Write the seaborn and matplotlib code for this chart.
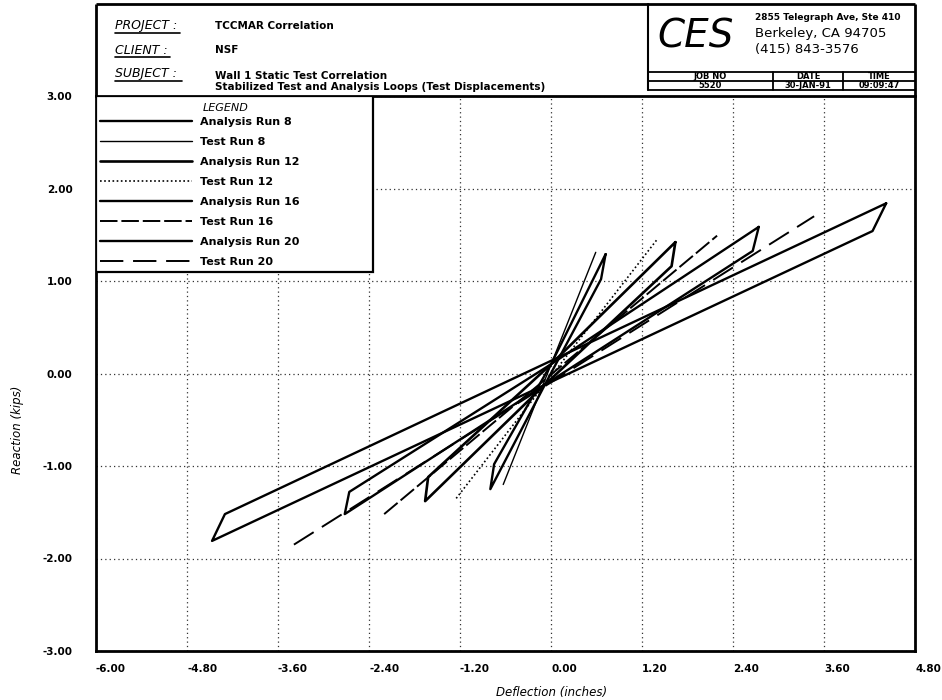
import matplotlib
matplotlib.use("Agg")
import matplotlib.pyplot as plt
import numpy as np
import pandas as pd
import seaborn as sns
from matplotlib.patches import Rectangle
from matplotlib.ticker import FixedLocator, FuncFormatter

# ---- hysteresis loop vertices: deflection (in) / reaction (kips) ----
a8_x = [0.72, 0.66, -0.08, -0.80, -0.75, 0.00, 0.72]
a8_y = [1.29, 1.02, -0.12, -1.25, -0.98, 0.10, 1.29]
t8_x = [-0.63, 0.59]
t8_y = [-1.20, 1.31]
a12_x = [1.64, 1.59, -0.08, -1.66, -1.62, 0.00, 1.64]
a12_y = [1.42, 1.16, -0.12, -1.38, -1.12, 0.10, 1.42]
t12_x = [-1.25, 1.40]
t12_y = [-1.35, 1.45]
a16_x = [2.74, 2.66, -0.08, -2.72, -2.66, 0.00, 2.74]
a16_y = [1.585, 1.325, -0.12, -1.52, -1.28, 0.10, 1.585]
t16_x = [-2.20, 2.19]
t16_y = [-1.52, 1.49]
a20_x = [4.42, 4.24, -4.47, -4.30, 4.42]
a20_y = [1.84, 1.54, -1.81, -1.52, 1.84]
t20_x = [-3.39, 3.47]
t20_y = [-1.85, 1.70]

series_names = ["Analysis Run 8", "Test Run 8", "Analysis Run 12", "Test Run 12",
                "Analysis Run 16", "Test Run 16", "Analysis Run 20", "Test Run 20"]
series_xy = [(a8_x, a8_y), (t8_x, t8_y), (a12_x, a12_y), (t12_x, t12_y),
             (a16_x, a16_y), (t16_x, t16_y), (a20_x, a20_y), (t20_x, t20_y)]

x_ticks = [-6.0, -4.8, -3.6, -2.4, -1.2, 0.0, 1.2, 2.4, 3.6, 4.8]
y_ticks = [-3.0, -2.0, -1.0, 0.0, 1.0, 2.0, 3.0]

line_styles = {
    "Analysis Run 8": dict(lw=1.7, ls="-"),
    "Test Run 8": dict(lw=1.0, ls="-"),
    "Analysis Run 12": dict(lw=1.9, ls="-"),
    "Test Run 12": dict(lw=1.2, ls=(0, (1, 1.5))),
    "Analysis Run 16": dict(lw=1.7, ls="-"),
    "Test Run 16": dict(lw=1.4, ls=(0, (9, 2))),
    "Analysis Run 20": dict(lw=1.7, ls="-"),
    "Test Run 20": dict(lw=1.4, ls=(0, (12, 5))),
}

sns.set_style("white")
plt.rcParams["font.family"] = ["DejaVu Sans"]
plt.rcParams["text.color"] = "black"
plt.rcParams["axes.labelcolor"] = "black"

W, H = 942, 700
fig = plt.figure(figsize=(W / 100, H / 100), dpi=100)
fig.patch.set_facecolor("white")


def box(x0, y0, x1, y1):
    return [x0 / W, 1 - y1 / H, (x1 - x0) / W, (y1 - y0) / H]


AX_L, AX_T, AX_R, AX_B = 96, 96, 915, 651
ax = fig.add_axes(box(AX_L, AX_T, AX_R, AX_B))

for name, (xs, ys) in zip(series_names, series_xy):
    df = pd.DataFrame({"Deflection": xs, "Reaction": ys})
    st = line_styles[name]
    sns.lineplot(data=df, x="Deflection", y="Reaction", sort=False, estimator=None,
                 color="black", linewidth=st["lw"], linestyle=st["ls"],
                 label=name, ax=ax, legend=False, zorder=3)

ax.set_xlim(x_ticks[0], x_ticks[-1])
ax.set_ylim(y_ticks[0], y_ticks[-1])
ax.xaxis.set_major_locator(FixedLocator(x_ticks))
ax.yaxis.set_major_locator(FixedLocator(y_ticks))
fmt = FuncFormatter(lambda v, p: f"{v:.2f}")
ax.xaxis.set_major_formatter(fmt)
ax.yaxis.set_major_formatter(fmt)
ax.tick_params(axis="both", length=0, labelsize=7.5, labelcolor="black")
ax.tick_params(axis="x", pad=9)
ax.tick_params(axis="y", pad=17)
for lab in ax.get_xticklabels():
    lab.set_horizontalalignment("left")
    lab.set_fontweight("bold")
for lab in ax.get_yticklabels():
    lab.set_fontweight("bold")

ax.grid(True, color="0.2", linestyle=(0, (1, 2.5)), linewidth=0.9)
for sp in ax.spines.values():
    sp.set_visible(True)
    sp.set_color("black")
    sp.set_linewidth(2.0)

ax.set_xlabel("Deflection (inches)", fontstyle="italic", fontsize=8.5)
ax.set_ylabel("Reaction (kips)", fontstyle="italic", fontsize=8.5)
ax.xaxis.set_label_coords((552 - AX_L) / (AX_R - AX_L), (AX_B - 686) / (AX_B - AX_T))
ax.yaxis.set_label_coords((24 - AX_L) / (AX_R - AX_L), (AX_B - 430) / (AX_B - AX_T))

# legend panel in the upper-left corner
aw, ah = AX_R - AX_L, AX_B - AX_T
ax.add_patch(Rectangle((0, (AX_B - 272) / ah), (373 - AX_L) / aw, (272 - AX_T) / ah,
                       transform=ax.transAxes, facecolor="white", edgecolor="black",
                       linewidth=1.6, zorder=5))
ax.text((203 - AX_L) / aw, (AX_B - 108) / ah, "LEGEND", transform=ax.transAxes,
        fontstyle="italic", fontsize=8, va="center", ha="left", zorder=7)
leg = ax.legend(handles=ax.get_lines()[:8], labels=series_names, loc="upper left",
                bbox_to_anchor=((100 - AX_L) / aw, (AX_B - 117) / ah),
                frameon=False, borderpad=0, borderaxespad=0,
                handlelength=8.3, handletextpad=0.7, labelspacing=0.9,
                prop={"size": 8, "weight": "bold"})
leg.set_zorder(8)

# ---- title block ----
hd = fig.add_axes([0, 0, 1, 1], zorder=-1)
hd.set_xlim(0, W)
hd.set_ylim(H, 0)
hd.axis("off")
k = dict(color="black", lw=2.0, solid_capstyle="butt")
hd.plot([AX_L, AX_R], [4, 4], **k)
hd.plot([AX_L, AX_L], [4, AX_T], **k)
hd.plot([AX_R, AX_R], [4, AX_T], **k)

lab_kw = dict(fontstyle="italic", fontsize=9, va="center", ha="left")
val_kw = dict(fontsize=7.5, fontweight="bold", va="center", ha="left")
rows = [("PROJECT :", 26, 180, "TCCMAR Correlation"),
        ("CLIENT :", 50, 170, "NSF"),
        ("SUBJECT :", 74, 182, None)]
for lab, y, uend, val in rows:
    hd.text(115, y, lab, **lab_kw)
    hd.plot([115, uend], [y + 7, y + 7], color="black", lw=1.2)
    if val:
        hd.text(215, y, val, **val_kw)
hd.text(215, 76, "Wall 1 Static Test Correlation", **val_kw)
hd.text(215, 87, "Stabilized Test and Analysis Loops (Test Displacements)", **val_kw)

# company box
bx0 = 648
hd.plot([bx0, bx0], [4, 90], color="black", lw=1.5)
for yy in (72, 81, 90):
    hd.plot([bx0, AX_R], [yy, yy], color="black", lw=1.3)
for xx in (773, 843):
    hd.plot([xx, xx], [72, 90], color="black", lw=1.3)
hd.text(657, 36, "CES", fontstyle="italic", fontweight="light", fontsize=28,
        va="center", ha="left")
hd.text(755, 17, "2855 Telegraph Ave, Ste 410", fontsize=6.5, fontweight="bold",
        va="center", ha="left")
hd.text(755, 34, "Berkeley, CA 94705", fontsize=9.5, va="center", ha="left")
hd.text(755, 50, "(415) 843-3576", fontsize=9.5, va="center", ha="left")
small = dict(fontsize=6, fontweight="bold", va="center", ha="center")
for cx, top, bot in ((710, "JOB NO", "5520"), (808, "DATE", "30-JAN-91"),
                     (879, "TIME", "09:09:47")):
    hd.text(cx, 76.5, top, **small)
    hd.text(cx, 85.5, bot, **small)

fig.savefig("out.png", dpi=100, facecolor="white")
